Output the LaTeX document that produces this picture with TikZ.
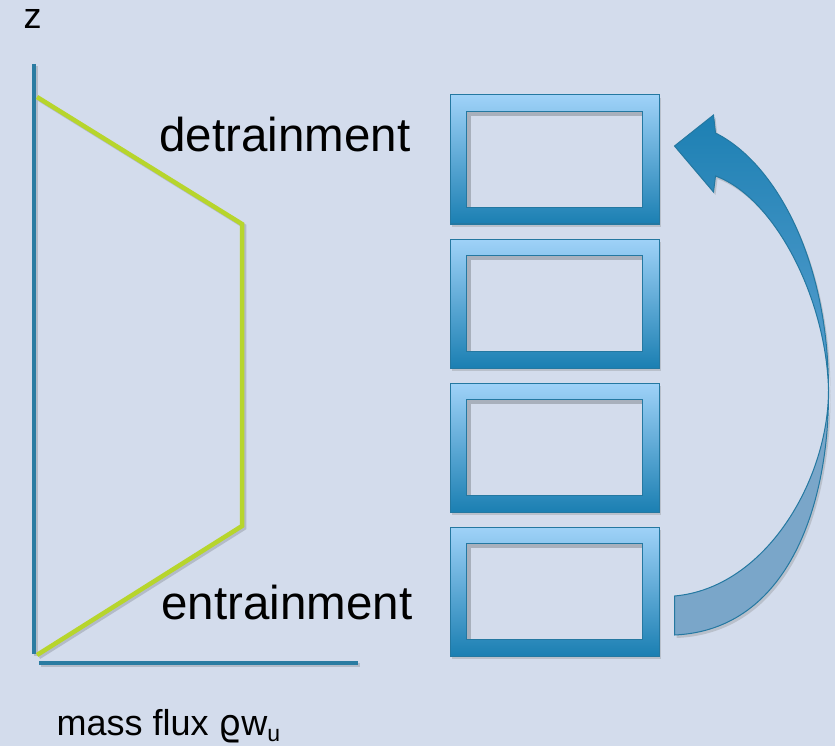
\documentclass[tikz,border=0pt]{standalone}
\usepackage{fontspec}
\setmainfont{Liberation Sans}
\newfontfamily\rhofont{DejaVu Sans}
\usetikzlibrary{calc,shadows}
\definecolor{bgblue}{HTML}{D3DCEC}
\definecolor{axisteal}{HTML}{2A7CA2}
\definecolor{profilegreen}{HTML}{B7D52C}
\definecolor{frametop}{HTML}{9FD2F8}
\definecolor{framebot}{HTML}{1B7FB2}
\definecolor{edgeteal}{HTML}{2478A1}
\definecolor{arrowtop}{HTML}{1D80B3}
\definecolor{arrowmid}{HTML}{5AA0D0}
\definecolor{arrowpale}{HTML}{7AA6C9}

\begin{document}
\begin{tikzpicture}[x=1pt, y=-1pt,
  axis/.style={axisteal, line width=4pt,
    preaction={draw=black, opacity=0.15, line width=4pt, transform canvas={shift={(2pt,-2pt)}}}},
  profile/.style={profilegreen, line width=4.5pt,
    preaction={draw=black, opacity=0.15, line width=4.5pt, transform canvas={shift={(2pt,-2pt)}}}},
  frame/.style={rectangle, minimum width=209pt, minimum height=129pt, inner sep=0pt,
    top color=frametop, bottom color=framebot, draw=edgeteal, line width=1pt,
    drop shadow={shadow xshift=2pt, shadow yshift=-3pt, opacity=0.3}},
  hole/.style={rectangle, minimum width=176pt, minimum height=96pt, inner sep=0pt,
    fill=bgblue, draw=edgeteal, line width=1pt,
    path picture={\draw[black, opacity=0.2, line width=9pt] (path picture bounding box.south west)
      -- (path picture bounding box.north west) -- (path picture bounding box.north east);}},
  ribbon/.style={top color=arrowtop, bottom color=arrowmid, draw=edgeteal, line width=1pt,
    drop shadow={shadow xshift=2pt, shadow yshift=-3pt, opacity=0.3}},
  backribbon/.style={fill=arrowpale, draw=edgeteal, line width=1pt,
    drop shadow={shadow xshift=2pt, shadow yshift=-3pt, opacity=0.3}},
  big/.style={anchor=base west, font=\fontsize{47.5}{47.5}\selectfont},
  small/.style={anchor=base west, font=\fontsize{36}{36}\selectfont}]

\fill[bgblue] (0,0) rectangle (835,746);
\useasboundingbox (0,0) rectangle (835,746);

\coordinate (ztop) at (34,64);
\coordinate (zbot) at (34,654);
\coordinate (fluxstart) at (39,663);
\coordinate (fluxend) at (358,663);
\draw[axis] (ztop) -- (zbot);
\draw[axis] (fluxstart) -- (fluxend);

\coordinate (ptop) at (37,97);
\coordinate (pknee1) at (242,224);
\coordinate (pknee2) at (242,526);
\coordinate (pbot) at (37,655);
\draw[profile] (ptop) -- (pknee1) -- (pknee2) -- (pbot);

\foreach \i/\y in {1/159.5, 2/303.5, 3/447.5, 4/591.5} {
    \node[frame] (box\i) at (554.5,\y) {};
    \node[hole] (hole\i) at (box\i) {};
}

\coordinate (tip) at ($(box1.east)+(15,-13.5)$);
\coordinate (barbA) at ($(box1.east)+(54,-44.5)$);
\coordinate (shoulderA) at ($(box1.east)+(56,-26.5)$);
\coordinate (shoulderB) at ($(box1.east)+(56,16.5)$);
\coordinate (barbB) at ($(box1.east)+(54,32.5)$);
\coordinate (twist) at ($(box2.east)!0.5!(box3.east)+(169,14.5)$);
\coordinate (tailA) at ($(box4.east)+(15,4.5)$);
\coordinate (tailB) at ($(box4.east)+(15,43.5)$);

\path[backribbon] (twist) .. controls +(1,110) and +(116,-5) .. (tailB) -- (tailA)
    .. controls +(91,-8) and +(0,90) .. (twist) -- cycle;
\path[ribbon] (tip) -- (barbA) -- (shoulderA) .. controls +(60,30) and +(0,-130) .. (twist)
    .. controls +(-2,-90) and +(60,22) .. (shoulderB) -- (barbB) -- cycle;

\node[small] (zlabel) at (20,29) {z};
\node[big] (detrain) at (156,152) {detrainment};
\node[big] (entrain) at (158,619) {entrainment};
\node[small] (fluxlabel) at (53,735) {mass flux {\rhofont ϱ}w\raisebox{-6pt}{\fontsize{23}{23}\selectfont u}};

\end{tikzpicture}
\end{document}
